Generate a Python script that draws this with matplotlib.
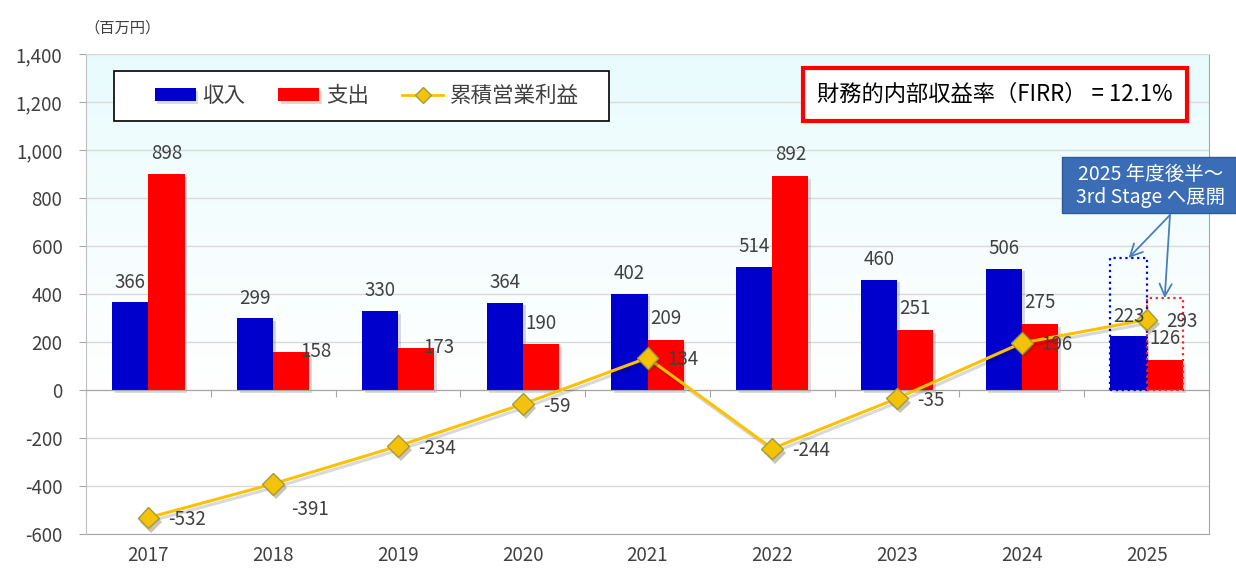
import numpy as np
import matplotlib
matplotlib.use('Agg')
import matplotlib.pyplot as plt
import matplotlib.patheffects as pe
from matplotlib.patches import Rectangle
from matplotlib.lines import Line2D
from matplotlib.ticker import FuncFormatter

plt.rcParams['font.family'] = ['Noto Sans CJK JP', 'DejaVu Sans']

# data (百万円)
years = ['2017', '2018', '2019', '2020', '2021', '2022', '2023', '2024', '2025']
revenue = [366, 299, 330, 364, 402, 514, 460, 506, 223]
expense = [898, 158, 173, 190, 209, 892, 251, 275, 126]
cum_profit = [-532, -391, -234, -59, 134, -244, -35, 196, 293]
plan_2025 = [550, 383]  # dotted outlines for the 2025 bars (収入, 支出)

series_names = ['収入', '支出', '累積営業利益']
firr_text = '財務的内部収益率（FIRR） = 12.1%'
note_text = '2025 年度後半～\n3rd Stage へ展開'

# label offsets in pixels (dx, dy) where the default placement is not used
expense_label_offsets = {1: (25, 1), 2: (23, 1)}
profit_label_offsets = {1: (18, -26)}

text_col = '#404040'
blue = '#0000CC'
red = '#FF0000'
gold = '#FFC000'
num_size = 13.5

fig = plt.figure(figsize=(12.36, 5.68), dpi=100)
ax = fig.add_axes([86 / 1236, 34 / 568, 1123 / 1236, 480 / 568])

x = np.arange(len(years))
w = 0.29

# background gradient (light cyan at top, white from zero down)
ymin, ymax = -600, 1400
yy = np.linspace(ymax, ymin, 400)
t = np.clip((ymax - yy) / ymax, 0, 1)[:, None] ** 0.9
top = np.array([0.91, 0.985, 0.992])
grad = top * (1 - t) + np.ones(3) * t
ax.imshow(grad[:, None, :], extent=[-0.5, len(years) - 0.5, ymin, ymax],
          aspect='auto', zorder=-2, interpolation='bilinear')

shadow = [pe.SimplePatchShadow(offset=(2, -2), alpha=0.15), pe.Normal()]
b1 = ax.bar(x - w / 2, revenue, w, color=blue, zorder=2, path_effects=shadow)
b2 = ax.bar(x + w / 2, expense, w, color=red, zorder=2, path_effects=shadow)

# dotted outlines of the 2025 plan
ax.add_patch(Rectangle((x[-1] - w, 0), w, plan_2025[0], fill=False,
                       ls=':', lw=1.6, ec='#0000DD', zorder=3))
ax.add_patch(Rectangle((x[-1], 0), w, plan_2025[1], fill=False,
                       ls=':', lw=1.6, ec='#FF2020', zorder=3))

ax.plot(x, cum_profit, color=gold, lw=2.2, zorder=4,
        path_effects=[pe.SimpleLineShadow(offset=(1.5, -2.5), alpha=0.15),
                      pe.Normal()])
ax.plot(x, cum_profit, ls='none', marker='D', ms=11, mfc='#F5C20A',
        mec='#A39C3A', mew=1, zorder=4,
        path_effects=[pe.SimplePatchShadow(offset=(2, -3), alpha=0.3),
                      pe.Normal()])

# data labels
for i, v in enumerate(revenue):
    ax.annotate(str(v), (x[i] - w / 2, v), xytext=(0, 20), textcoords='offset pixels',
                ha='center', va='center', fontsize=num_size, color=text_col, zorder=5)
for i, v in enumerate(expense):
    dx, dy = expense_label_offsets.get(i, (0, 21))
    ax.annotate(str(v), (x[i] + w / 2, v), xytext=(dx, dy), textcoords='offset pixels',
                ha='center', va='center', fontsize=num_size, color=text_col, zorder=5)
for i, v in enumerate(cum_profit):
    dx, dy = profit_label_offsets.get(i, (20, -2))
    ax.annotate(str(v), (x[i], v), xytext=(dx, dy), textcoords='offset pixels',
                ha='left', va='center', fontsize=num_size, color=text_col, zorder=5)

# axes
ax.set_xlim(-0.5, len(years) - 0.5)
ax.set_ylim(ymin, ymax)
ax.set_yticks(np.arange(ymin, ymax + 1, 200))
ax.yaxis.set_major_formatter(FuncFormatter(lambda v, p: f'{int(v):,}'))
ax.tick_params(axis='y', length=5, color='#a6a6a6', pad=12, labelsize=num_size,
               labelcolor=text_col)
ax.yaxis.grid(True, color='#d9d9d9', lw=1)
ax.set_axisbelow(True)

ax.spines['bottom'].set_position(('data', 0))
ax.spines['bottom'].set_color('#a6a6a6')
ax.spines['left'].set_color('#bfbfbf')
ax.spines['right'].set_color('#a6a6a6')
ax.spines['top'].set_color('#d9d9d9')
ax.set_xticks(np.arange(-0.5, len(years), 1))
ax.set_xticklabels([])
ax.tick_params(axis='x', direction='out', length=5, color='#a6a6a6')

sec = ax.secondary_xaxis('bottom')
sec.set_xticks(x, labels=years)
sec.tick_params(length=0, pad=8, labelsize=num_size, labelcolor=text_col)
sec.spines['bottom'].set_color('#a6a6a6')

fig.text(84 / 1236, 1 - 28 / 568, '（百万円）', fontsize=11, color=text_col,
         ha='left', va='center')

# legend (frame drawn separately so it can be wider than the entries)
ax.add_patch(Rectangle(((114 - 86) / 1123, 1 - (121 - 54) / 480), 495 / 1123, 50 / 480,
                       transform=ax.transAxes, fc='white', ec='black', lw=1.2,
                       zorder=6))
handles = [b1, b2, Line2D([], [], color=gold, lw=2, marker='D', ms=8,
                          mfc='#F5C20A', mec='#A39C3A')]
leg = ax.legend(handles, series_names, ncol=3, loc='center',
                bbox_to_anchor=(0.2498, 0.9125), fontsize=15.5, frameon=False,
                handlelength=1.9, handleheight=0.55, handletextpad=0.3,
                columnspacing=1.55, borderpad=0.55, borderaxespad=0,
                labelcolor=text_col)
leg.set_zorder(7)

# FIRR box
ax.add_patch(Rectangle((0.6385, 0.8604), 0.3419, 0.1104, transform=ax.transAxes,
                       fc='white', ec='#FF0000', lw=3, zorder=6))
ax.text(0.8094, 0.9156, firr_text, transform=ax.transAxes, ha='center', va='center',
        fontsize=16, color='black', zorder=7)

# callout box
fig.add_artist(Rectangle((1062 / 1236, 1 - 213 / 568), 174 / 1236, 56 / 568,
                         transform=fig.transFigure, fc='#3A6DB5', ec='#2F5A96',
                         lw=1, zorder=6))
fig.text(1151 / 1236, 1 - 186 / 568, note_text, ha='center', va='center',
         fontsize=14, color='white', linespacing=1.15, zorder=7)
for xt, yt in [(x[-1] - w / 2, plan_2025[0]), (x[-1] + w / 2, plan_2025[1])]:
    ax.annotate('', xy=(xt, yt), xytext=(1170 / 1236, 1 - 215 / 568),
                textcoords='figure fraction', annotation_clip=False,
                arrowprops=dict(arrowstyle='->', color='#4A7EBB', lw=1.3,
                                mutation_scale=22, shrinkA=0, shrinkB=0))

fig.savefig('out.png', dpi=100)
